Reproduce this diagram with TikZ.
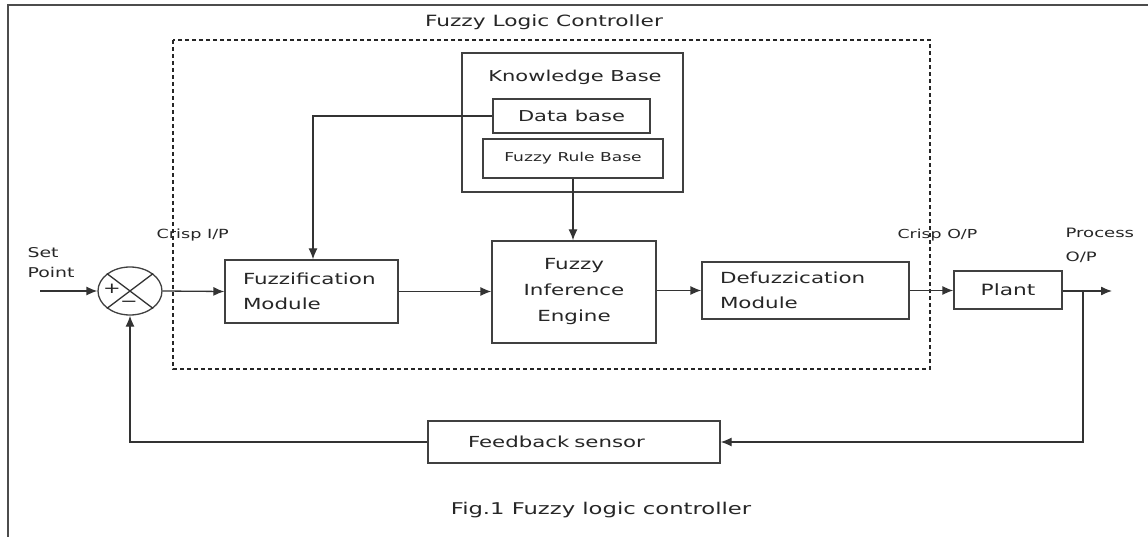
\documentclass[tikz,border=0pt]{standalone}
\usepackage{fontspec}
\setmainfont[FakeStretch=1.4]{DejaVu Sans}
\usetikzlibrary{arrows.meta,shapes.geometric}
\begin{document}
\begin{tikzpicture}[x=1pt,y=-1pt,
  line width=1.2pt,
  every node/.style={text=black!85},
  blk/.style={draw=black!75, line width=1.3pt, rectangle, inner sep=0pt},
  lbl/.style={align=left, inner sep=0pt},
  conn/.style={draw=black!80, line width=1.3pt},
  arr/.style={conn, -{Latex[length=11pt,width=9pt]}},
  mainfont/.style={font=\fontsize{15.3}{25.5}\selectfont}
]
\useasboundingbox (0,0) rectangle (1148,537);
% outer frame
\coordinate (ftl) at (8,5);
\draw[black!70, line width=1.8pt] (1148,5) -- (ftl) -- (8,537);
% dashed controller boundary
\draw[black!85, line width=1.2pt, dash pattern=on 4pt off 3pt] (173,40) rectangle (930,369);
\node[lbl, font=\fontsize{15.5}{17}\selectfont] (title) at (544,22) {Fuzzy Logic Controller};

% knowledge base
\node[blk, minimum width=221, minimum height=139] (kb) at (572.5,122.5) {};
\node[lbl, font=\fontsize{15}{17}\selectfont] (kbt) at (575,77) {Knowledge Base};
\node[blk, font=\fontsize{15}{17}\selectfont, minimum width=157, minimum height=34] (db) at (571.5,116) {Data base};
\node[blk, font=\fontsize{12.2}{14}\selectfont, minimum width=180, minimum height=39] (rb) at (573,158.5) {Fuzzy Rule Base};

% main blocks
\node[blk, mainfont, minimum width=173, minimum height=63, text width=137pt, inner xsep=18pt, align=left] (fz) at (311.5,291.5) {Fuzzification\\Module};
\node[blk, minimum width=164, minimum height=102, align=center, font=\fontsize{15.3}{26}\selectfont] (fie) at (574,292) {Fuzzy\\Inference\\Engine};
\node[blk, mainfont, minimum width=207, minimum height=57, text width=171pt, inner xsep=18pt, align=left] (dfz) at (805.5,290.5) {Defuzzication\\Module};
\node[blk, font=\fontsize{15.5}{17}\selectfont, minimum width=108, minimum height=38] (pl) at (1008,290) {Plant};
\node[blk, font=\fontsize{15.2}{17}\selectfont, minimum width=292, minimum height=42, text width=212pt, inner xsep=40pt, align=left] (fb) at (574,442) {Feedback sensor};

% summing junction
\node[draw=black!75, line width=1.3pt, ellipse, minimum width=64, minimum height=48, inner sep=0pt] (sum) at (130,291) {};
\draw[conn] (sum.north west) -- (sum.south east);
\draw[conn] (sum.north east) -- (sum.south west);
\node[inner sep=0pt, font=\fontsize{15}{15}\selectfont] (plus) at (112,289) {+};
\node[inner sep=0pt, font=\fontsize{15}{15}\selectfont] (minus) at (129,304) {−};

% labels
\node[lbl, anchor=west, font=\fontsize{13.5}{20}\selectfont] (sp) at (27,263) {Set\\Point};
\node[lbl, anchor=west, font=\fontsize{12.6}{14}\selectfont] (cip) at (156,235) {Crisp I/P};
\node[lbl, anchor=west, font=\fontsize{12.4}{14}\selectfont] (cop) at (897,235) {Crisp O/P};
\node[lbl, anchor=west, font=\fontsize{12.9}{24}\selectfont] (pop) at (1065,245) {Process\\O/P};
\node[lbl, font=\fontsize{16.2}{18}\selectfont] (cap) at (601,510) {Fig.1 Fuzzy logic controller};

% connectors
\coordinate (spin) at (40,291);
\coordinate (out) at (1112,291);
\coordinate (br) at (1083,291);
\draw[arr] (spin) -- (sum.west);
\draw[arr] (sum.east) -- (fz.west);
\draw[arr] (fz.east) -- (fie.west |- fz.east);
\draw[arr] (fie.east |- dfz.west) -- (dfz.west);
\draw[arr] (dfz.east) -- (pl.west |- dfz.east);
\draw[arr] (pl.east |- out) -- (out);
\draw[arr] (br) |- (fb.east);
\draw[arr] (fb.west) -| (sum.south);
\draw[arr] (db.west) -| (fz.north -| 313,0);
\draw[arr] (rb.south) -- (fie.north -| rb.south);
\end{tikzpicture}
\end{document}
